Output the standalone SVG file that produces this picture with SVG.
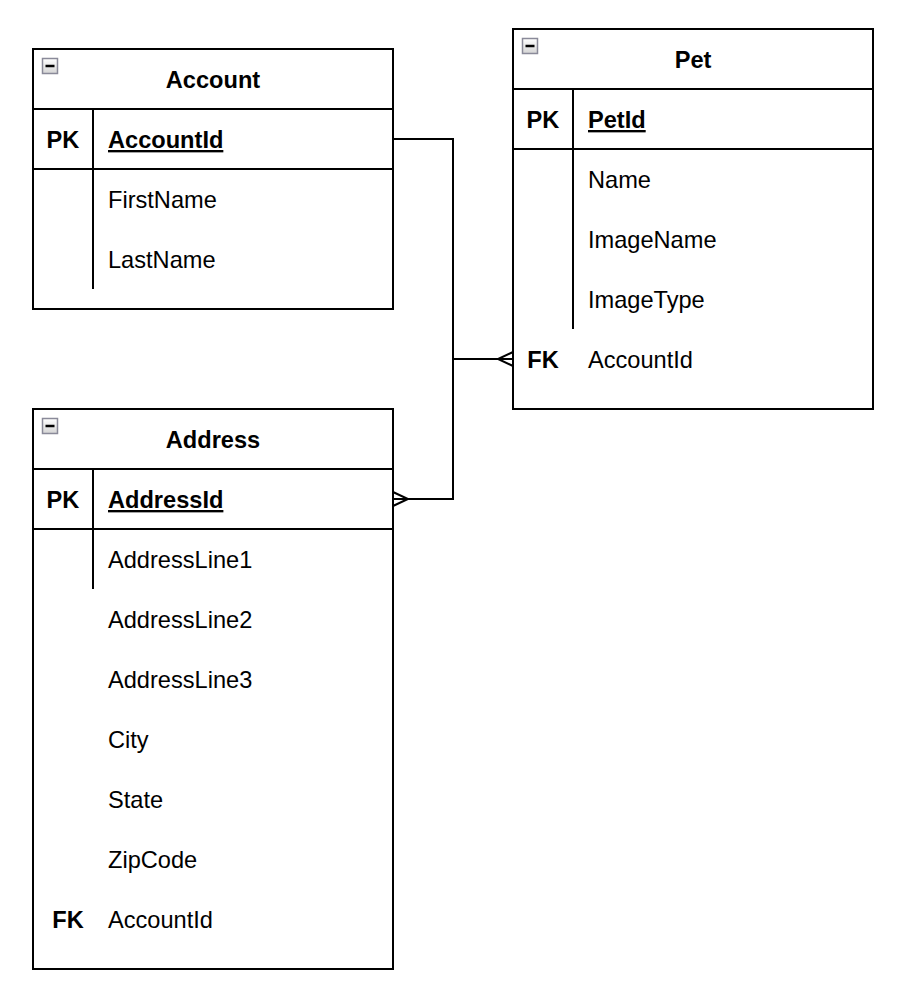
<svg xmlns="http://www.w3.org/2000/svg" width="908" height="996" viewBox="0 0 908 996">
<defs>
<linearGradient id="ig" x1="0" y1="0" x2="0" y2="1">
<stop offset="0" stop-color="#ffffff"/>
<stop offset="1" stop-color="#d4d4d4"/>
</linearGradient>
<style>
.box{fill:#ffffff;stroke:#000;stroke-width:2}
.ln{stroke:#000;stroke-width:2;fill:none}
.t{font-family:"Liberation Sans",Arial,Helvetica,sans-serif;font-size:23.6px;fill:#000}
.b{font-weight:bold}
.c{text-anchor:middle}
.u{text-decoration:underline}
.icon{fill:url(#ig);stroke:#8a8a99;stroke-width:1.5}
.dash{stroke:#000;stroke-width:2.5}
</style>
</defs>
<rect width="908" height="996" fill="#ffffff"/>

<g id="connectors">
<path class="ln" d="M393,139 H453 V499 H393"/>
<path class="ln" d="M393,492 L408,499 L393,506"/>
<path class="ln" d="M453,359 H513"/>
<path class="ln" d="M513,352 L498,359 L513,366"/>
</g>

<g id="account">
<rect class="box" x="33" y="49" width="360" height="260"/>
<line class="ln" x1="33" y1="109" x2="393" y2="109"/>
<line class="ln" x1="33" y1="169" x2="393" y2="169"/>
<line class="ln" x1="93" y1="109" x2="93" y2="289"/>
<rect class="icon" x="42.5" y="58.5" width="15" height="15"/>
<line class="dash" x1="45.5" y1="66" x2="54.5" y2="66"/>
<text class="t b c" x="213" y="88">Account</text>
<text class="t b c" x="63" y="148">PK</text>
<text class="t b u" x="108" y="148">AccountId</text>
<text class="t" x="108" y="208">FirstName</text>
<text class="t" x="108" y="268">LastName</text>
</g>

<g id="pet">
<rect class="box" x="513" y="29" width="360" height="380"/>
<line class="ln" x1="513" y1="89" x2="873" y2="89"/>
<line class="ln" x1="513" y1="149" x2="873" y2="149"/>
<line class="ln" x1="573" y1="89" x2="573" y2="329"/>
<rect class="icon" x="522.5" y="38.5" width="15" height="15"/>
<line class="dash" x1="525.5" y1="46" x2="534.5" y2="46"/>
<text class="t b c" x="693" y="68">Pet</text>
<text class="t b c" x="543" y="128">PK</text>
<text class="t b u" x="588" y="128">PetId</text>
<text class="t" x="588" y="188">Name</text>
<text class="t" x="588" y="248">ImageName</text>
<text class="t" x="588" y="308">ImageType</text>
<text class="t b c" x="543" y="368">FK</text>
<text class="t" x="588" y="368">AccountId</text>
</g>

<g id="address">
<rect class="box" x="33" y="409" width="360" height="560"/>
<line class="ln" x1="33" y1="469" x2="393" y2="469"/>
<line class="ln" x1="33" y1="529" x2="393" y2="529"/>
<line class="ln" x1="93" y1="469" x2="93" y2="589"/>
<rect class="icon" x="42.5" y="418.5" width="15" height="15"/>
<line class="dash" x1="45.5" y1="426" x2="54.5" y2="426"/>
<text class="t b c" x="213" y="448">Address</text>
<text class="t b c" x="63" y="508">PK</text>
<text class="t b u" x="108" y="508">AddressId</text>
<text class="t" x="108" y="568">AddressLine1</text>
<text class="t" x="108" y="628">AddressLine2</text>
<text class="t" x="108" y="688">AddressLine3</text>
<text class="t" x="108" y="748">City</text>
<text class="t" x="108" y="808">State</text>
<text class="t" x="108" y="868">ZipCode</text>
<text class="t b c" x="68" y="928">FK</text>
<text class="t" x="108" y="928">AccountId</text>
</g>
</svg>
